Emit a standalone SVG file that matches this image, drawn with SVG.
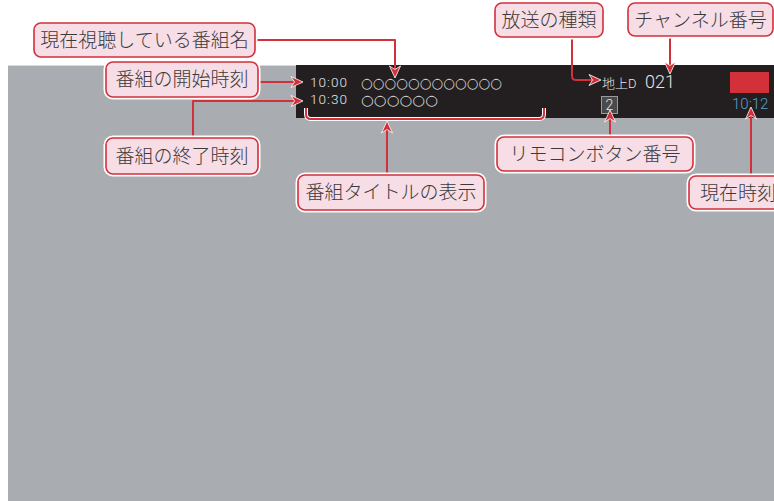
<svg xmlns="http://www.w3.org/2000/svg" width="774" height="501" viewBox="0 0 774 501">
<style>
.lbl rect.h{fill:none;stroke:#fff;stroke-width:5}
.lbl rect.b{fill:#f7dde5;stroke:#d2303a;stroke-width:1.6}
.lbl text{font-family:"Noto Sans CJK JP","Noto Sans",sans-serif;font-weight:300;font-size:19px;fill:#3a3a3a;text-anchor:middle}
.halo{fill:none;stroke:#fff;stroke-width:4;stroke-linejoin:round}
.con{fill:none;stroke:#d2303a;stroke-width:2;stroke-linejoin:round}
.num{font-family:Roboto,"Liberation Sans",sans-serif;font-weight:300;fill:#e6e6e6}
.circ{font-family:"DejaVu Sans",sans-serif;font-size:14.5px;fill:#cfcfcf}
</style>
<defs>
<marker id="ah" markerUnits="userSpaceOnUse" markerWidth="15" markerHeight="13" refX="12" refY="6.5" orient="auto" viewBox="0 0 15 13">
<path d="M1,1 L13,6.5 L1,12 L4.5,6.5 z" fill="#d2303a" stroke="#fff" stroke-width="0.8" stroke-linejoin="round"/>
</marker>
</defs>
<rect x="0" y="0" width="774" height="501" fill="#fff"/>
<g id="screen">
<rect x="8" y="65" width="766" height="436" fill="#a9acb0"/>
<line x1="8" y1="65.5" x2="296" y2="65.5" stroke="#d8d9db" stroke-width="1"/>
<rect x="296" y="65" width="478" height="53" fill="#231f20"/>
<text class="num" x="310" y="87" font-size="13.5" textLength="37" lengthAdjust="spacing">10:00</text>
<text class="num" x="310" y="104" font-size="13.5" textLength="37" lengthAdjust="spacing">10:30</text>
<text class="circ" x="361" y="87.5" textLength="141" lengthAdjust="spacingAndGlyphs">○○○○○○○○○○○○</text>
<text class="circ" x="361" y="104.5" textLength="77" lengthAdjust="spacingAndGlyphs">○○○○○○</text>
<text x="602" y="88" font-family="Noto Sans CJK JP,sans-serif" font-weight="300" font-size="13" fill="#e6e6e6">地上<tspan font-family="Roboto,Liberation Sans,sans-serif">D</tspan></text>
<text class="num" x="645" y="88" font-size="18">021</text>
<rect x="601.5" y="96.5" width="16" height="17" fill="#4a4a4a" stroke="#9a9a9a" stroke-width="1"/>
<text class="num" x="609.5" y="110" font-size="14" text-anchor="middle">2</text>
<rect x="730" y="72" width="39" height="21" fill="#d3313a"/>
<text x="732" y="109" font-family="Roboto,Liberation Sans,sans-serif" font-weight="300" font-size="15" fill="#5b9fc7">10:12</text>
</g>
<g id="connectors">
<path class="halo" d="M306 108 V114 Q306 119 311 119 H539 Q544 119 544 114 V108"/>
<path class="con" d="M306 108 V114 Q306 119 311 119 H539 Q544 119 544 114 V108" stroke-width="1.6"/>
<path class="con" d="M255 40 H395 V77" marker-end="url(#ah)"/>
<path class="con" d="M258 82 H302" marker-end="url(#ah)"/>
<path class="con" d="M193 138 V101 H302" marker-end="url(#ah)"/>
<path class="con" d="M387 175 V122" marker-end="url(#ah)"/>
<path class="con" d="M572 37 V76 Q572 80 576 80 H600" marker-end="url(#ah)"/>
<path class="con" d="M670 36 V73" marker-end="url(#ah)"/>
<path class="con" d="M610 137 V111" marker-end="url(#ah)"/>
<path class="con" d="M751 176 V108" marker-end="url(#ah)"/>
</g>
<g id="lbl-program-name" class="lbl"><rect class="h" x="34" y="23" width="221" height="34" rx="7"/><rect class="b" x="34" y="23" width="221" height="34" rx="7"/><text x="144.5" y="47">現在視聴している番組名</text></g>
<g id="lbl-start" class="lbl"><rect class="h" x="106" y="62" width="152" height="35" rx="7"/><rect class="b" x="106" y="62" width="152" height="35" rx="7"/><text x="182" y="86">番組の開始時刻</text></g>
<g id="lbl-end" class="lbl"><rect class="h" x="106" y="138" width="152" height="36" rx="7"/><rect class="b" x="106" y="138" width="152" height="36" rx="7"/><text x="182" y="163">番組の終了時刻</text></g>
<g id="lbl-title" class="lbl"><rect class="h" x="298" y="175" width="186" height="35" rx="7"/><rect class="b" x="298" y="175" width="186" height="35" rx="7"/><text x="391" y="199">番組タイトルの表示</text></g>
<g id="lbl-broadcast" class="lbl"><rect class="h" x="495" y="3" width="108" height="34" rx="7"/><rect class="b" x="495" y="3" width="108" height="34" rx="7"/><text x="549" y="27">放送の種類</text></g>
<g id="lbl-channel" class="lbl"><rect class="h" x="628" y="3" width="145" height="33" rx="7"/><rect class="b" x="628" y="3" width="145" height="33" rx="7"/><text x="700.5" y="27">チャンネル番号</text></g>
<g id="lbl-remote" class="lbl"><rect class="h" x="497" y="137" width="196" height="34" rx="7"/><rect class="b" x="497" y="137" width="196" height="34" rx="7"/><text x="595" y="161">リモコンボタン番号</text></g>
<g id="lbl-clock" class="lbl"><rect class="h" x="689" y="176" width="100" height="33" rx="7"/><rect class="b" x="689" y="176" width="100" height="33" rx="7"/><text x="700" y="200" style="text-anchor:start">現在時刻</text></g>
</svg>
